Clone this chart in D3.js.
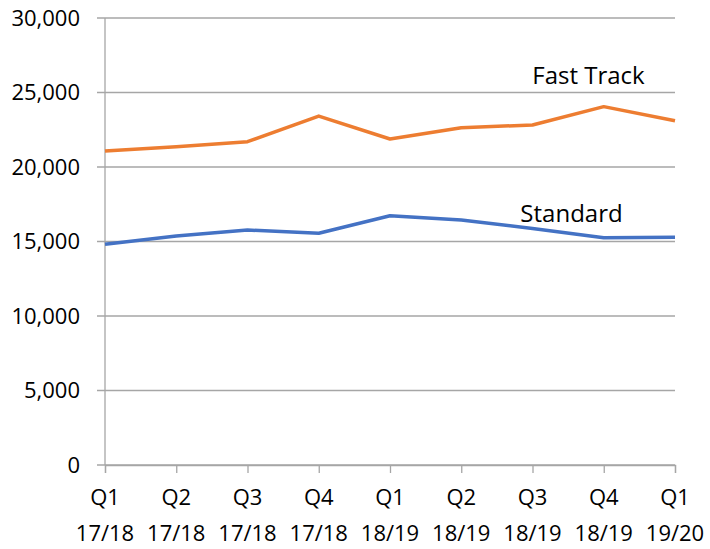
<!DOCTYPE html>
<html>
<head>
<meta charset="utf-8">
<script src="https://cdn.jsdelivr.net/npm/d3@7"></script>
<style>
  body { margin: 0; background: #fff; }
  text { font-family: "Open Sans", "Noto Sans", sans-serif; fill: #000; }
</style>
</head>
<body>
<div id="chart"></div>
<script>
// quarters along the x axis, two lines each
var quarters = ["Q1", "Q2", "Q3", "Q4", "Q1", "Q2", "Q3", "Q4", "Q1"];
var years = ["17/18", "17/18", "17/18", "17/18", "18/19", "18/19", "18/19", "18/19", "19/20"];

// series values
var fastTrack = [21070, 21360, 21700, 23420, 21880, 22640, 22820, 24050, 23100];
var standard = [14810, 15370, 15770, 15550, 16730, 16440, 15880, 15250, 15280];

var yTicks = [0, 5000, 10000, 15000, 20000, 25000, 30000];

var margin = { top: 18, right: 35, bottom: 84, left: 105 },
    width = 710 - margin.left - margin.right,
    height = 549 - margin.top - margin.bottom;

var svg = d3.select("#chart")
  .append("svg")
  .attr("width", 710)
  .attr("height", 549)
  .append("g")
  .attr("transform", "translate(" + margin.left + "," + margin.top + ")");

var x = d3.scalePoint()
  .domain(d3.range(quarters.length))
  .range([0, width]);

var y = d3.scaleLinear()
  .domain([0, 30000])
  .range([height, 0]);

// gridlines
svg.append("g")
  .selectAll("line")
  .data(yTicks)
  .enter()
  .append("line")
  .attr("x1", -8)
  .attr("x2", width)
  .attr("y1", function(d) { return y(d); })
  .attr("y2", function(d) { return y(d); })
  .attr("stroke", "#a6a6a6")
  .attr("stroke-width", 1.3);

// y axis labels
var yAxis = d3.axisLeft(y)
  .tickValues(yTicks)
  .tickSize(0)
  .tickPadding(25)
  .tickFormat(d3.format(","));

svg.append("g")
  .call(yAxis)
  .call(function(g) { g.select(".domain").remove(); })
  .selectAll("text")
  .style("font-size", "22px");

// left axis line
svg.append("line")
  .attr("x1", 0).attr("x2", 0)
  .attr("y1", 0).attr("y2", height)
  .attr("stroke", "#a6a6a6")
  .attr("stroke-width", 1.3);

// x axis
var xAxis = d3.axisBottom(x)
  .tickSize(8)
  .tickFormat("");

var gx = svg.append("g")
  .attr("transform", "translate(0," + height + ")")
  .call(xAxis);
gx.select(".domain").attr("stroke", "#a6a6a6").attr("stroke-width", 1.3);
gx.selectAll(".tick line").attr("stroke", "#a6a6a6").attr("stroke-width", 1.3);

var labels = svg.append("g")
  .selectAll("text")
  .data(quarters)
  .enter()
  .append("text")
  .attr("text-anchor", "middle")
  .style("font-size", "22px")
  .attr("x", function(d, i) { return x(i); })
  .attr("y", height + 40);
labels.append("tspan")
  .attr("x", function(d, i) { return x(i); })
  .text(function(d) { return d; });
labels.append("tspan")
  .attr("x", function(d, i) { return x(i); })
  .attr("dy", 36)
  .text(function(d, i) { return years[i]; });

// lines
var line = d3.line()
  .x(function(d, i) { return x(i); })
  .y(function(d) { return y(d); });

svg.append("path")
  .datum(fastTrack)
  .attr("d", line)
  .attr("fill", "none")
  .attr("stroke", "#ed7d31")
  .attr("stroke-width", 3.5)
  .attr("stroke-linejoin", "round");

svg.append("path")
  .datum(standard)
  .attr("d", line)
  .attr("fill", "none")
  .attr("stroke", "#4472c4")
  .attr("stroke-width", 3.5)
  .attr("stroke-linejoin", "round");

// series labels
svg.append("text")
  .attr("x", x(6) + 56)
  .attr("y", y(25550))
  .attr("text-anchor", "middle")
  .style("font-size", "24px")
  .text("Fast Track");

svg.append("text")
  .attr("x", x(6) + 39)
  .attr("y", y(16300))
  .attr("text-anchor", "middle")
  .style("font-size", "24px")
  .text("Standard");
</script>
</body>
</html>
